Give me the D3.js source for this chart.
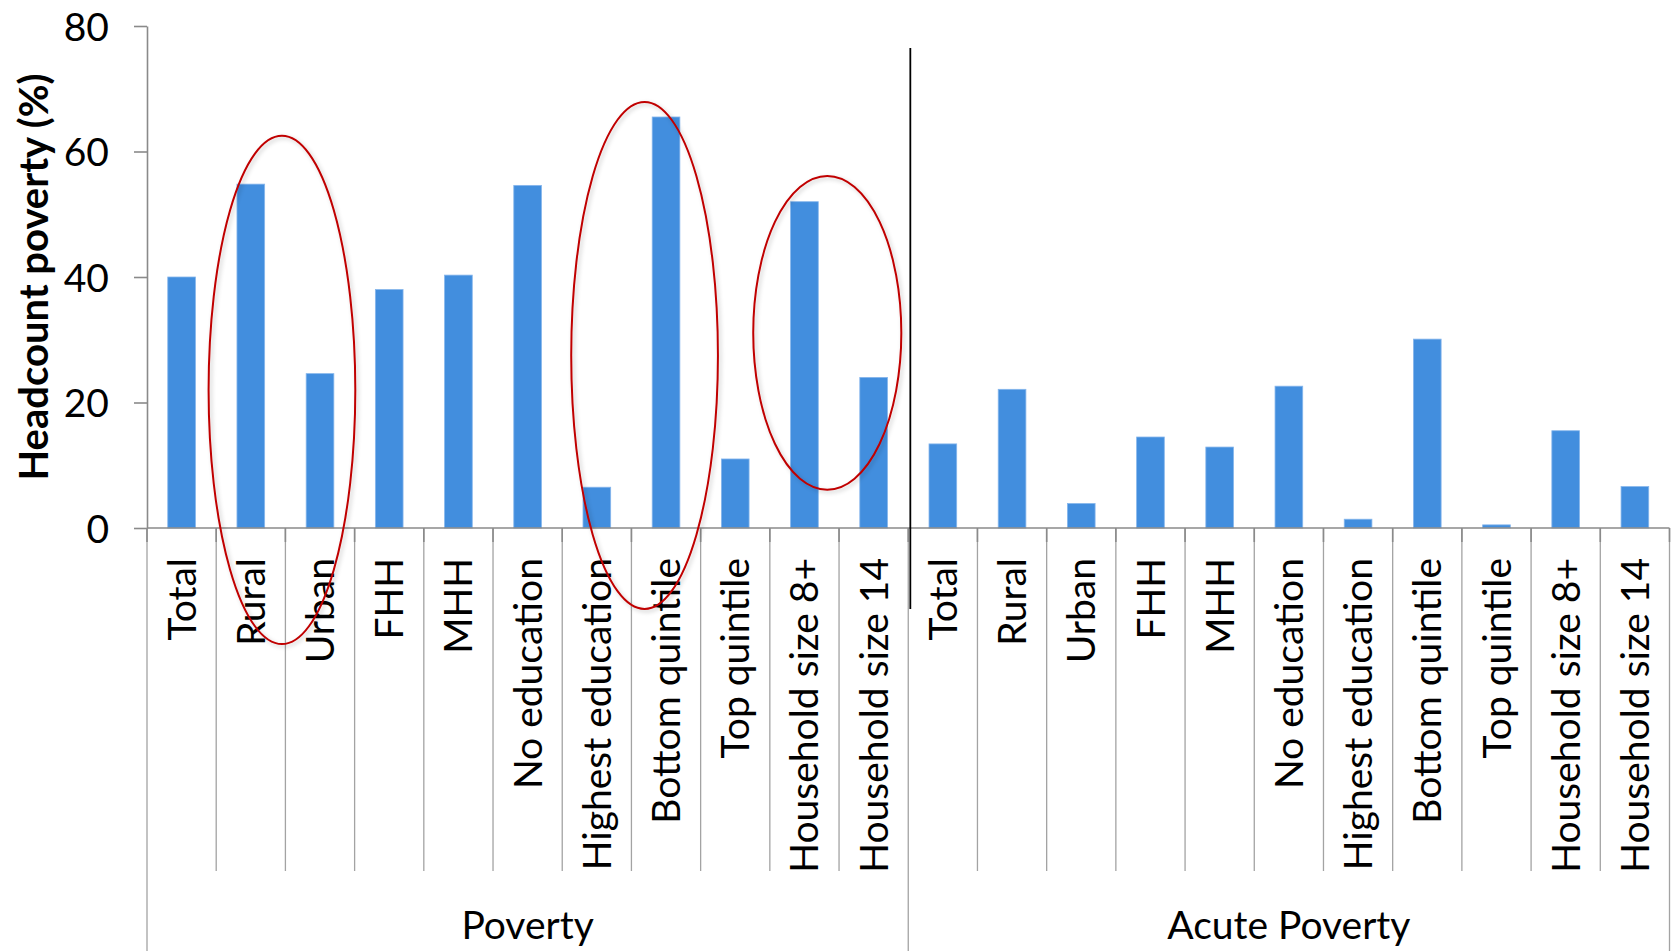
<!DOCTYPE html>
<html>
<head>
<meta charset="utf-8">
<script src="https://cdn.jsdelivr.net/npm/d3@7"></script>
<style>
	body{margin:0;background:#fff;}
	svg{display:block;font-family:Lato,'Open Sans',sans-serif;}
	.cat_label,.group_label{font-size:39px;fill:#000;}
	.heading{font-size:40px;font-weight:bold;fill:#000;}
</style>
</head>
<body>
<svg id="chart"></svg>
<script>
/*data*/
const groups = ['Poverty','Acute Poverty']
const categories = ['Total','Rural','Urban','FHH','MHH','No education','Highest education','Bottom quintile','Top quintile','Household size 8+','Household size 14']
const poverty = [40.0,54.8,24.6,38.0,40.3,54.6,6.5,65.5,11.0,52.0,24.0]
const acute_poverty = [13.4,22.1,3.9,14.5,12.9,22.6,1.4,30.1,0.5,15.5,6.6]
const y_ticks = [0,20,40,60,80]

/*red rings, in category steps and percent*/
const rings = [
	{step:1.95,value:22.0,rx:1.06,ry:40.5},
	{step:7.19,value:27.5,rx:1.06,ry:40.4},
	{step:9.83,value:31.1,rx:1.07,ry:25.0}
]
const divider = {step:11.03,from:76.5,to:-12.9}

let margin = {
	top: 26,
	right: 5.5,
	bottom: 423,
	left: 147
};

let width = 1675 - margin.left - margin.right;
let height = 951 - margin.top - margin.bottom;

let d = []
groups.forEach((g,gi)=>{
	let vals = gi == 0 ? poverty : acute_poverty
	categories.forEach((c,ci)=>{
		d.push({key:`${g}|${c}`,group:g,cat:c,value:vals[ci]})
	})
})

const xScale = d3
	.scaleBand()
	.domain(d.map((dataPoint) => dataPoint.key))
	.range([0,width])
	.padding(0);

//fractional positions along the category axis
const xStep = d3
	.scaleLinear()
	.domain([0,d.length])
	.range([0,width]);

const yScale = d3
	.scaleLinear()
	.domain([0,80])
	.range([height,0]);

const container = d3.select('#chart')
	.attr('width',1675)
	.attr('height',951)

const defs = container.append('defs')
const shadow = defs.append('filter')
	.attr('id','shade')
	.attr('x','-20%').attr('y','-20%')
	.attr('width','140%').attr('height','140%')
shadow.append('feDropShadow')
	.attr('dx',2).attr('dy',2)
	.attr('stdDeviation',2)
	.attr('flood-color','#000')
	.attr('flood-opacity',0.22)

const chart = container.append('g')
	.attr('transform',`translate(${margin.left},${margin.top})`);

const bar_w = xScale.bandwidth() * 0.4

const bars = chart
	.selectAll('.bar')
	.data(d)
	.enter()
	.append('rect')
	.classed('bar',true)
	.attr('width', bar_w)
	.attr('height', data => height - yScale(data.value))
	.attr('x', data => xScale(data.key) + (xScale.bandwidth() - bar_w) / 2)
	.attr('y', data => yScale(data.value))
	.attr('fill','#428ede')
	.attr('stroke','#86b6ec')
	.attr('stroke-width',0.8)

const axisY = chart.append('g')
	.call(
		d3
		.axisLeft(yScale)
		.tickValues(y_ticks)
		.tickSize(13)
		.tickSizeOuter(0)
		.tickPadding(25)
		.tickFormat(d3.format('d'))
	)
	.classed('axisY',true)

axisY.selectAll('path,line').attr('stroke','#8a8a8a').attr('stroke-width',1.6)
axisY.selectAll('text').attr('font-family','Lato').attr('font-size',39).attr('fill','#000').attr('dy','0.36em')

/*category axis*/
const bounds = d3.range(d.length + 1)
const group_bounds = [0,categories.length,d.length]

chart.append('line')
	.attr('x1',0).attr('x2',width)
	.attr('y1',height).attr('y2',height)
	.attr('stroke','#8a8a8a')
	.attr('stroke-width',1.6)

chart.selectAll('.sep')
	.data(bounds.filter(b => !group_bounds.includes(b)))
	.enter()
	.append('line')
	.classed('sep',true)
	.attr('x1',b => xStep(b)).attr('x2',b => xStep(b))
	.attr('y1',height).attr('y2',height + 343)
	.attr('stroke','#a3a3a3')
	.attr('stroke-width',1.3)

chart.selectAll('.gsep')
	.data(group_bounds)
	.enter()
	.append('line')
	.classed('gsep',true)
	.attr('x1',b => xStep(b)).attr('x2',b => xStep(b))
	.attr('y1',height).attr('y2',height + margin.bottom)
	.attr('stroke','#a3a3a3')
	.attr('stroke-width',1.3)

chart.selectAll('.tick_x')
	.data(bounds)
	.enter()
	.append('line')
	.classed('tick_x',true)
	.attr('x1',b => xStep(b)).attr('x2',b => xStep(b))
	.attr('y1',height).attr('y2',height + 14)
	.attr('stroke','#8a8a8a')
	.attr('stroke-width',1.6)

const labels = chart
	.selectAll('.cat_label')
	.data(d)
	.enter()
	.append('text')
	.classed('cat_label',true)
	.text(data => data.cat)
	.attr('text-anchor','end')
	.attr('dy','0.36em')
	.attr('transform',data => `translate(${xScale(data.key) + xScale.bandwidth() / 2},${height + 30}) rotate(-90)`)

chart.selectAll('.group_label')
	.data(groups)
	.enter()
	.append('text')
	.classed('group_label',true)
	.text(g => g)
	.attr('text-anchor','middle')
	.attr('x',(g,i) => (xStep(group_bounds[i]) + xStep(group_bounds[i + 1])) / 2)
	.attr('y',height + 411)

const heading = chart
	.append('text')
	.classed('heading',true)
	.text('Headcount poverty (%)')
	.attr('text-anchor','middle')
	.attr('transform',`translate(${-99},${yScale(40)}) rotate(-90)`)

/*annotations*/
chart.append('line')
	.attr('x1',xStep(divider.step)).attr('x2',xStep(divider.step))
	.attr('y1',yScale(divider.from)).attr('y2',yScale(divider.to))
	.attr('stroke','#000')
	.attr('stroke-width',1.8)

chart.selectAll('.ring')
	.data(rings)
	.enter()
	.append('ellipse')
	.classed('ring',true)
	.attr('cx',r => xStep(r.step))
	.attr('cy',r => yScale(r.value))
	.attr('rx',r => xStep(r.rx))
	.attr('ry',r => yScale(0) - yScale(r.ry))
	.attr('fill','none')
	.attr('stroke','#c00000')
	.attr('stroke-width',2)
	.attr('filter','url(#shade)')
</script>
</body>
</html>
